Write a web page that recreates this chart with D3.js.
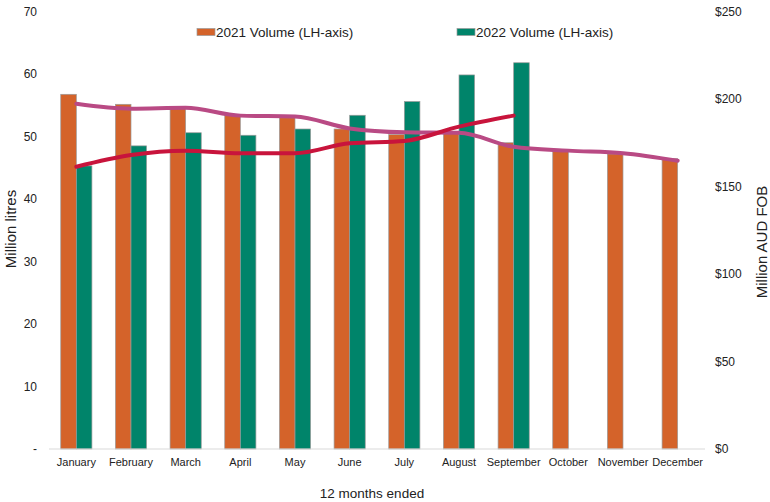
<!DOCTYPE html>
<html>
<head>
<meta charset="utf-8">
<script src="https://cdn.jsdelivr.net/npm/d3@7"></script>
<style>
  body { margin: 0; background: #fff; }
  text { font-family: "Liberation Sans", Arial, sans-serif; fill: #222; }
</style>
</head>
<body>
<div id="chart"></div>
<script>
// chart data
const months = ['January', 'February', 'March', 'April', 'May', 'June', 'July',
  'August', 'September', 'October', 'November', 'December'];
const volume2021 = [56.75, 55.15, 54.5, 53.4, 53.0, 51.2, 50.3, 50.8, 49.0, 47.7, 47.2, 46.45];
const volume2022 = [45.3, 48.5, 50.6, 50.2, 51.2, 53.4, 55.6, 59.85, 61.8];
const value2021 = [197.3, 194.5, 195, 190.5, 190, 183.2, 181, 180.7, 172.7, 170.5, 169, 164.7];
const value2022 = [161.3, 168, 170.5, 169, 169, 174.7, 176, 184.2, 190.5];
const leftTicks = [0, 10, 20, 30, 40, 50, 60, 70];
const rightTicks = [0, 50, 100, 150, 200, 250];
const volumeSeries = ['2021 Volume (LH-axis)', '2022 Volume (LH-axis)'];

const width = 770;
const height = 502;
const plot = { left: 49, right: 705, top: 11.5, bottom: 449 };
const barColors = ['#d4632a', '#00846a'];
const lineColors = ['#b94a84', '#c8143c'];

const svg = d3.select('#chart')
  .append('svg')
  .attr('width', width)
  .attr('height', height)
  .attr('style', 'background-color:white');

const x0 = d3.scaleBand()
  .domain(months)
  .range([plot.left, plot.right])
  .paddingInner(0.43)
  .paddingOuter(0.215);
const x1 = d3.scaleBand()
  .domain([0, 1])
  .range([0, x0.bandwidth()]);
const yLeft = d3.scaleLinear().domain([0, 70]).range([plot.bottom, plot.top]);
const yRight = d3.scaleLinear().domain([0, 250]).range([plot.bottom, plot.top]);

// bars
const barData = [];
volume2021.forEach((v, i) => barData.push({ m: months[i], s: 0, v: v }));
volume2022.forEach((v, i) => barData.push({ m: months[i], s: 1, v: v }));
svg.append('g')
  .selectAll('rect')
  .data(barData)
  .enter()
  .append('rect')
  .attr('x', d => x0(d.m) + x1(d.s))
  .attr('y', d => yLeft(d.v))
  .attr('width', x1.bandwidth())
  .attr('height', d => yLeft(0) - yLeft(d.v))
  .style('fill', d => barColors[d.s])
  .style('stroke', '#9a9a9a')
  .style('stroke-width', 0.7);

// baseline
svg.append('line')
  .attr('x1', plot.left).attr('x2', plot.right)
  .attr('y1', plot.bottom).attr('y2', plot.bottom)
  .style('stroke', '#d9d9d9')
  .style('stroke-width', 1);

// value lines on the right axis
const line = d3.line()
  .x((d, i) => x0(months[i]) + x0.bandwidth() / 2)
  .y(d => yRight(d))
  .curve(d3.curveMonotoneX);
[value2021, value2022].forEach((vals, k) => {
  svg.append('path')
    .attr('d', line(vals))
    .style('fill', 'none')
    .style('stroke', lineColors[k])
    .style('stroke-width', 4)
    .style('stroke-linecap', 'round')
    .style('stroke-linejoin', 'round');
});

// left axis
const leftAxis = d3.axisLeft(yLeft)
  .tickValues(leftTicks)
  .tickSize(0)
  .tickPadding(0)
  .tickFormat(d => d === 0 ? '-' : d);
const gl = svg.append('g')
  .attr('transform', 'translate(37,0)')
  .call(leftAxis);
gl.select('.domain').remove();
gl.selectAll('text').style('font-size', '12px').attr('fill', '#222');

// right axis
const rightAxis = d3.axisRight(yRight)
  .tickValues(rightTicks)
  .tickSize(0)
  .tickPadding(0)
  .tickFormat(d => '$' + d);
const gr = svg.append('g')
  .attr('transform', 'translate(715,0)')
  .call(rightAxis);
gr.select('.domain').remove();
gr.selectAll('text').style('font-size', '12px').attr('fill', '#222');

// bottom axis
const bottomAxis = d3.axisBottom(x0).tickSize(0).tickPadding(9);
const gb = svg.append('g')
  .attr('transform', 'translate(0,' + plot.bottom + ')')
  .call(bottomAxis);
gb.select('.domain').remove();
gb.selectAll('text').style('font-size', '11px').attr('fill', '#222');

// axis titles
svg.append('text')
  .attr('transform', 'translate(16,229) rotate(-90)')
  .attr('text-anchor', 'middle')
  .style('font-size', '15px')
  .text('Million litres');
svg.append('text')
  .attr('transform', 'translate(767,242) rotate(-90)')
  .attr('text-anchor', 'middle')
  .style('font-size', '15px')
  .text('Million AUD FOB');
svg.append('text')
  .attr('x', 372)
  .attr('y', 498)
  .attr('text-anchor', 'middle')
  .style('font-size', '13.5px')
  .text('12 months ended');

// legend
const legendX = [197, 457];
const legend = svg.append('g');
volumeSeries.forEach((name, i) => {
  legend.append('rect')
    .attr('x', legendX[i]).attr('y', 28.5)
    .attr('width', 18).attr('height', 7)
    .style('fill', barColors[i])
    .style('stroke', '#9a9a9a')
    .style('stroke-width', 0.7);
  legend.append('text')
    .attr('x', legendX[i] + 19)
    .attr('y', 37)
    .style('font-size', '13.5px')
    .text(name);
});
</script>
</body>
</html>
